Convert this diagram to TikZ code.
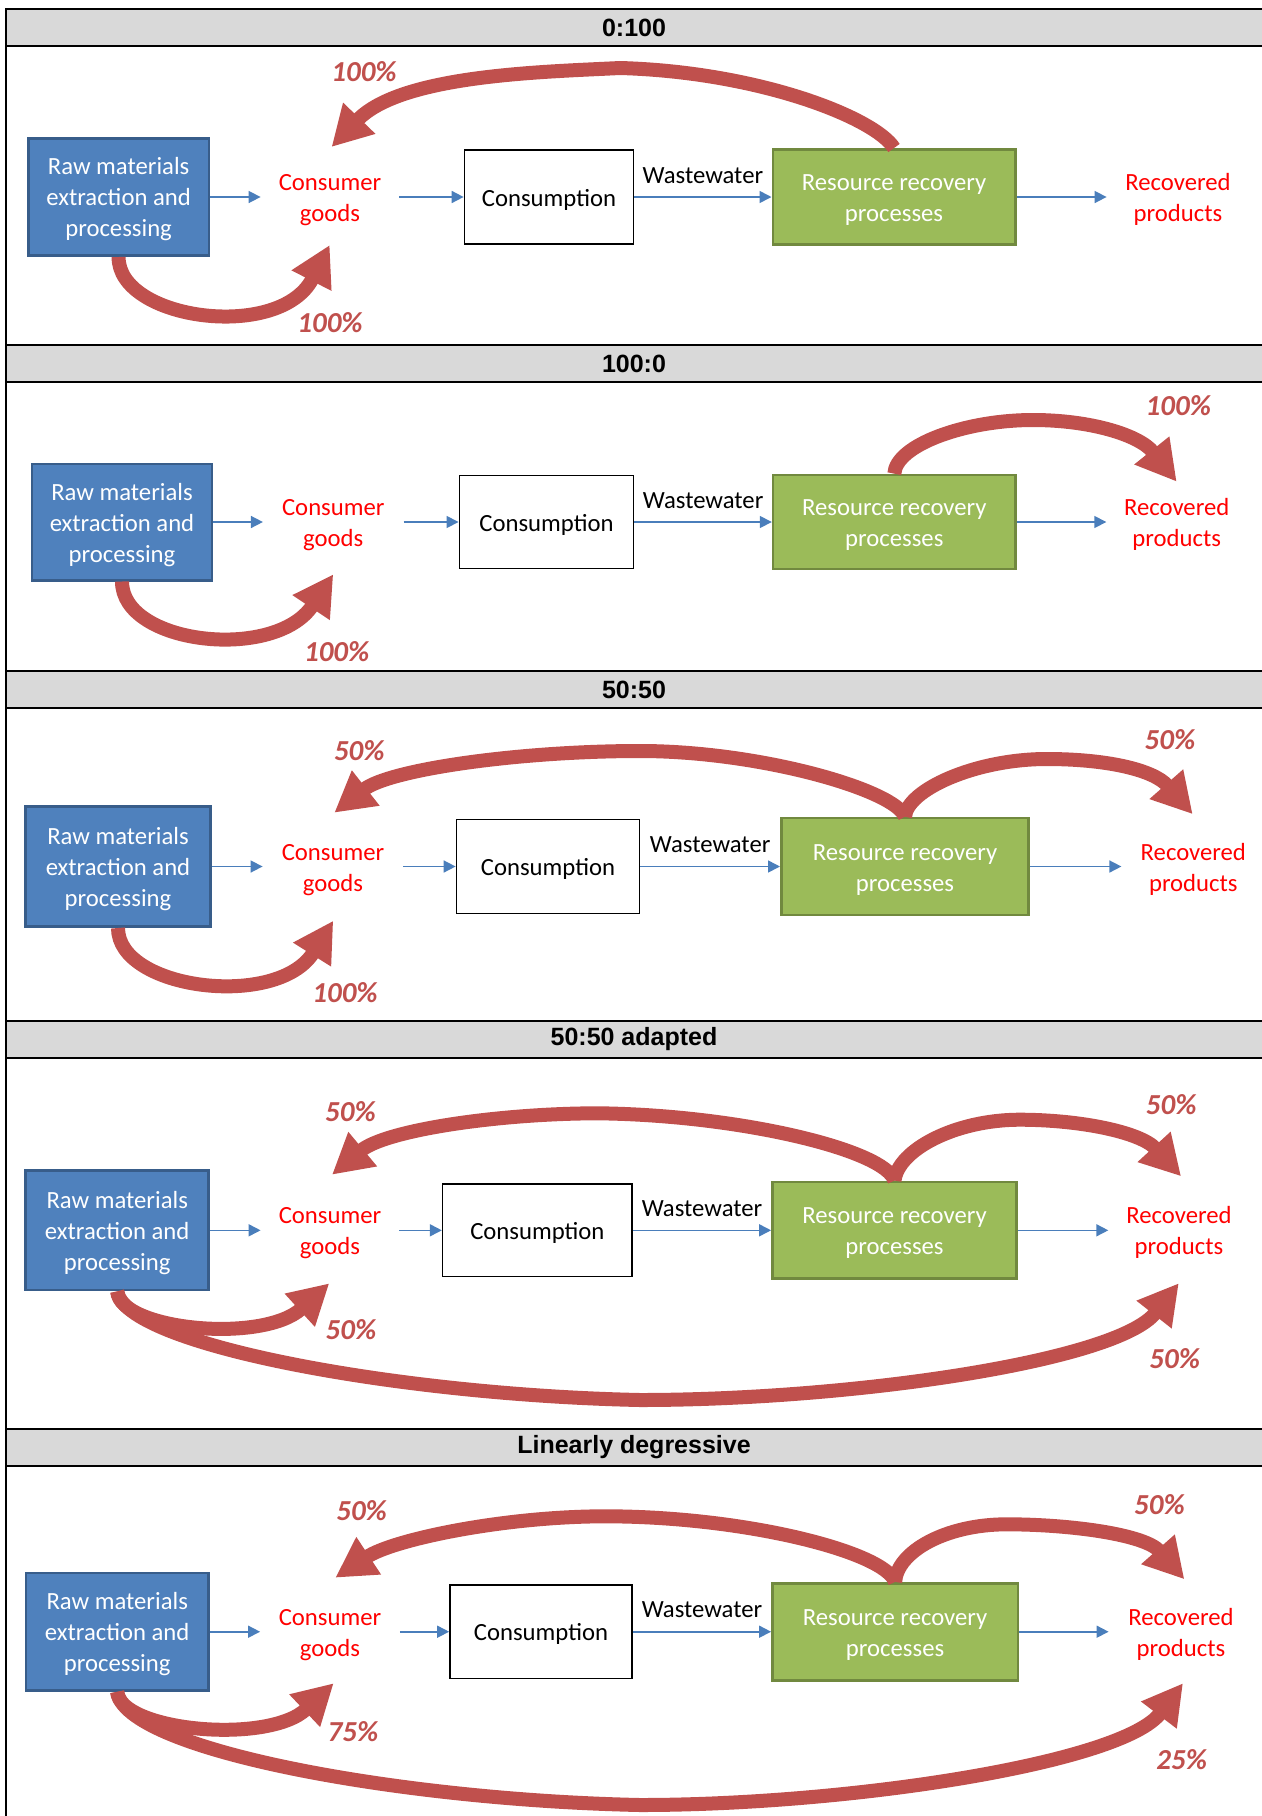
\documentclass[tikz,border=0pt]{standalone}
\usepackage{fontspec}
\setmainfont{Carlito}
\newfontfamily\headfont{Liberation Sans}
\usetikzlibrary{arrows.meta}

\definecolor{rawfill}{HTML}{4F81BD}
\definecolor{rawedge}{HTML}{385D8A}
\definecolor{recfill}{HTML}{9BBB59}
\definecolor{recedge}{HTML}{71893F}
\definecolor{flowblue}{HTML}{4A7EBB}
\definecolor{loopred}{HTML}{C0504D}
\definecolor{barfill}{HTML}{D9D9D9}

\newcommand\bodyfont{\fontsize{12.35pt}{15.5pt}\selectfont}
\newcommand\pctfont{\fontsize{14.5pt}{17pt}\selectfont\bfseries\itshape}
\newcommand\liftline{\rule{0pt}{0.9em}}

\begin{document}
\begin{tikzpicture}[x=0.5pt,y=-0.5pt,
  bar/.style={draw=black, line width=1pt, fill=barfill},
  frame/.style={draw=black, line width=1pt},
  head/.style={font={\headfont\fontsize{12.5pt}{15pt}\selectfont\bfseries}, inner sep=0pt},
  rawbox/.style={draw=rawedge, fill=rawfill, line width=1.3pt, text=white, align=center,
    inner sep=0pt, font=\bodyfont},
  recbox/.style={draw=recedge, fill=recfill, line width=1.3pt, text=white, align=center,
    inner sep=0pt, font=\bodyfont},
  conbox/.style={draw=black, fill=white, line width=0.75pt, align=center, inner sep=0pt,
    font=\bodyfont},
  goods/.style={text=red, align=center, inner sep=0pt, font=\bodyfont, minimum width=70pt},
  flow/.style={draw=flowblue, line width=0.8pt, -{Triangle[length=6pt,width=6pt]}},
  wlabel/.style={anchor=base, yshift=7pt, inner sep=0pt, font=\bodyfont},
  loop/.style={draw=loopred, line width=7pt, -{Triangle[length=20pt,width=21pt]}},
  pct/.style={text=loopred, font=\pctfont, inner sep=0pt}]

\useasboundingbox (0,0) rectangle (1262,1816);

% frame and title bars
\foreach \a/\b in {9/46, 345/382, 671/708, 1021/1058, 1429/1466}
  \path[bar] (6,\a) rectangle (1275,\b);
\draw[frame] (6,9) -- (6,1830);

\node[head] (h1) at (634,27.5) {0:100};
\node[head] (h2) at (634,363.5) {100:0};
\node[head] (h3) at (634,689.5) {50:50};
\node[head] (h4) at (634,1039.5) {50:50 adapted};
\node[head] (h5) at (634,1447.5) {Linearly degressive};

% ---------- 0:100 ----------
\node[rawbox, minimum width=90.2pt, minimum height=58.7pt] (raw1) at (118.6,197)
  {\liftline Raw materials\\extraction and\\processing};
\node[goods, minimum width=69pt] (cg1) at (330,197) {\liftline Consumer\\goods};
\node[conbox, minimum width=84.6pt, minimum height=46.9pt] (con1) at (549,197) {\liftline Consumption};
\node[recbox, minimum width=121.2pt, minimum height=47.7pt] (rr1) at (894,197)
  {\liftline Resource recovery\\processes};
\node[goods, minimum width=71pt] (rp1) at (1178,197) {\liftline Recovered\\products};

\draw[flow] (raw1.east) -- (cg1.west);
\draw[flow] (cg1.east) -- (con1.west);
\draw[flow] (con1.east) -- node[wlabel] {Wastewater} (rr1.west);
\draw[flow] (rr1.east) -- (rp1.west);

\coordinate (t1a) at (331.5,147);
\coordinate (t1b) at (329.7,245);
\draw[loop] (rr1.north) .. controls (875,118) and (760,72) .. (620,68)
  .. controls (540,72) and (401,75) .. (t1a);
\draw[loop] (raw1.south) .. controls (118,320) and (280,342) .. (t1b);
\node[pct] (p1a) at (364,72) {100\%};
\node[pct] (p1b) at (330,323) {100\%};

% ---------- 100:0 ----------
\node[rawbox, minimum width=90pt, minimum height=58.2pt] (raw2) at (122,522)
  {\liftline Raw materials\\extraction and\\processing};
\node[goods, minimum width=70pt] (cg2) at (333.3,522) {\liftline Consumer\\goods};
\node[conbox, minimum width=87.2pt, minimum height=46.7pt] (con2) at (546.5,522) {\liftline Consumption};
\node[recbox, minimum width=121.2pt, minimum height=47pt] (rr2) at (894.3,522)
  {\liftline Resource recovery\\processes};
\node[goods, minimum width=70pt] (rp2) at (1176.7,522) {\liftline Recovered\\products};

\draw[flow] (raw2.east) -- (cg2.west);
\draw[flow] (cg2.east) -- (con2.west);
\draw[flow] (con2.east) -- node[wlabel] {Wastewater} (rr2.west);
\draw[flow] (rr2.east) -- (rp2.west);

\coordinate (t2a) at (1176.7,481.7);
\coordinate (t2b) at (333.3,574.3);
\draw[loop] (rr2.north) .. controls (896,445) and (965,420) .. (1033,420)
  .. controls (1090,420) and (1139.3,434.8) .. (t2a);
\draw[loop] (raw2.south) .. controls (122,644.7) and (275,661.7) .. (t2b);
\node[pct] (p2a) at (1178.3,406) {100\%};
\node[pct] (p2b) at (336.7,651.7) {100\%};

% ---------- 50:50 ----------
\node[rawbox, minimum width=92.4pt, minimum height=60.2pt] (raw3) at (118,866.5)
  {\liftline Raw materials\\extraction and\\processing};
\node[goods, minimum width=70pt] (cg3) at (333,866.5) {\liftline Consumer\\goods};
\node[conbox, minimum width=91.6pt, minimum height=47pt] (con3) at (548,866.5) {\liftline Consumption};
\node[recbox, minimum width=123.7pt, minimum height=48.5pt] (rr3) at (905,866.5)
  {\liftline Resource recovery\\processes};
\node[goods, minimum width=71.5pt] (rp3) at (1193.3,866.5) {\liftline Recovered\\products};

\draw[flow] (raw3.east) -- (cg3.west);
\draw[flow] (cg3.east) -- (con3.west);
\draw[flow] (con3.east) -- node[wlabel] {Wastewater} (rr3.west);
\draw[flow] (rr3.east) -- (rp3.west);

\coordinate (t3a) at (334.3,812.7);
\coordinate (t3b) at (1192.7,814.2);
\coordinate (t3c) at (333.3,920.7);
\draw[loop] (rr3.north) .. controls (895,790) and (760,751) .. (640,751)
  .. controls (520,751) and (389.6,769.3) .. (t3a);
\draw[loop] (rr3.north) .. controls (907,790) and (975,759) .. (1046.7,759)
  .. controls (1105,759) and (1153.1,769.2) .. (t3b);
\draw[loop] (raw3.south) .. controls (118,989.7) and (277.5,1009.6) .. (t3c);
\node[pct] (p3a) at (359.3,750.7) {50\%};
\node[pct] (p3b) at (1170,740) {50\%};
\node[pct] (p3c) at (345,992.7) {100\%};

% ---------- 50:50 adapted ----------
\node[rawbox, minimum width=91.5pt, minimum height=59.8pt] (raw4) at (117.2,1230.3)
  {\liftline Raw materials\\extraction and\\processing};
\node[goods, minimum width=69pt] (cg4) at (330,1230.3) {\liftline Consumer\\goods};
\node[conbox, minimum width=94.8pt, minimum height=46.4pt] (con4) at (537.4,1230.3) {\liftline Consumption};
\node[recbox, minimum width=122.1pt, minimum height=48.4pt] (rr4) at (894.5,1230.3)
  {\liftline Resource recovery\\processes};
\node[goods, minimum width=70.3pt] (rp4) at (1179,1230.3) {\liftline Recovered\\products};

\draw[flow] (raw4.east) -- (cg4.west);
\draw[flow] (cg4.east) -- (con4.west);
\draw[flow] (con4.east) -- node[wlabel] {Wastewater} (rr4.west);
\draw[flow] (rr4.east) -- (rp4.west);

\coordinate (t4a) at (332,1174.7);
\coordinate (t4b) at (1181.1,1176.3);
\coordinate (t4c) at (329.3,1283.3);
\coordinate (t4d) at (1178.8,1283.2);
\draw[loop] (rr4.north) .. controls (885,1150) and (740,1115) .. (598.6,1113.3)
  .. controls (500,1113.3) and (385.8,1129.9) .. (t4a);
\draw[loop] (rr4.north) .. controls (898,1150) and (955,1119.7) .. (1019.8,1119.7)
  .. controls (1080,1119.7) and (1140.5,1132.1) .. (t4b);
\draw[loop] (raw4.south) .. controls (120,1330) and (262.8,1343.9) .. (t4c);
\draw[loop] (raw4.south) .. controls (125,1345) and (400,1395) .. (640,1400)
  .. controls (850,1400) and (1117,1361.5) .. (t4d);
\node[pct] (p4a) at (350.5,1111.3) {50\%};
\node[pct] (p4b) at (1171.2,1104.7) {50\%};
\node[pct] (p4c) at (351,1329.3) {50\%};
\node[pct] (p4d) at (1174.7,1358.3) {50\%};

% ---------- Linearly degressive ----------
\node[rawbox, minimum width=91.2pt, minimum height=58.8pt] (raw5) at (117.2,1631.7)
  {\liftline Raw materials\\extraction and\\processing};
\node[goods, minimum width=69.5pt] (cg5) at (330,1631.7) {\liftline Consumer\\goods};
\node[conbox, minimum width=91.1pt, minimum height=46.8pt] (con5) at (541,1631.7) {\liftline Consumption};
\node[recbox, minimum width=122.7pt, minimum height=48.5pt] (rr5) at (895.1,1631.7)
  {\liftline Resource recovery\\processes};
\node[goods, minimum width=72pt] (rp5) at (1181,1631.7) {\liftline Recovered\\products};

\draw[flow] (raw5.east) -- (cg5.west);
\draw[flow] (cg5.east) -- (con5.west);
\draw[flow] (con5.east) -- node[wlabel] {Wastewater} (rr5.west);
\draw[flow] (rr5.east) -- (rp5.west);

\coordinate (t5a) at (335.3,1577.7);
\coordinate (t5b) at (1184.4,1579.3);
\coordinate (t5c) at (333.7,1683.2);
\coordinate (t5d) at (1183,1683.2);
\draw[loop] (rr5.north) .. controls (885,1552) and (745,1516.3) .. (605.2,1516.3)
  .. controls (505,1516.3) and (393.8,1539.2) .. (t5a);
\draw[loop] (rr5.north) .. controls (897,1552) and (945,1524.3) .. (1006.7,1524.3)
  .. controls (1070,1524.3) and (1144.7,1534.3) .. (t5b);
\draw[loop] (raw5.south) .. controls (120,1731) and (268.3,1745) .. (t5c);
\draw[loop] (raw5.south) .. controls (125,1750) and (400,1800) .. (640,1805)
  .. controls (850,1805) and (1122.6,1762.9) .. (t5d);
\node[pct] (p5a) at (361.6,1511) {50\%};
\node[pct] (p5b) at (1159.4,1504.3) {50\%};
\node[pct] (p5c) at (353,1731.2) {75\%};
\node[pct] (p5d) at (1181.7,1760) {25\%};

\end{tikzpicture}
\end{document}
